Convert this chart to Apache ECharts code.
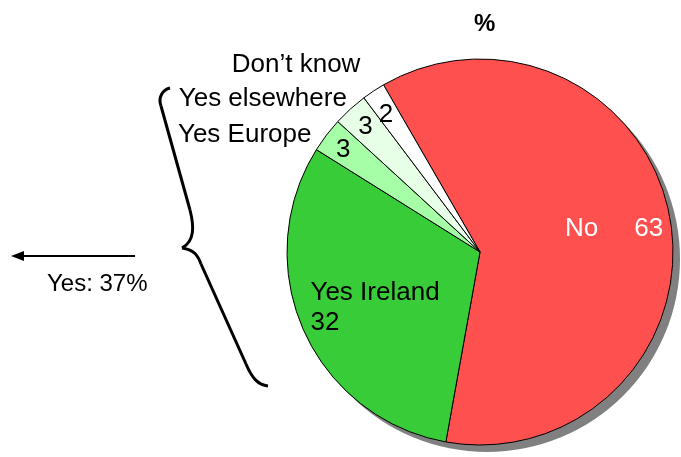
<!DOCTYPE html>
<html>
<head>
<meta charset="utf-8">
<script src="https://cdn.jsdelivr.net/npm/echarts@6/dist/echarts.min.js"></script>
<style>
  html, body { margin: 0; padding: 0; background: #fff; }
</style>
</head>
<body>
<div id="pie" style="width: 681px;height:457px;"></div>
<script>
// answers (%), clockwise from the "No" slice
const categories = ['No', 'Yes Ireland', 'Yes Europe', 'Yes elsewhere', 'Don\u2019t know'];
const values = [63, 32, 3, 3, 2];
const sliceColors = ['#ff5050', '#38cc38', '#a6ffa6', '#e6ffe6', '#ffffff'];
const titleText = '%';
const yesText = 'Yes: 37%';

const FONT = '"Liberation Sans", Arial, sans-serif';
const FS = 26;
const CENTER = [480, 252];
const R = 193;
const START = 120;

// labels: the two big slices get their name inside, the small ones outside
const insideOpts = {
  'No': { formatter: '{b}     {c}', color: '#fff', offset: [36, -6] },
  'Yes Ireland': {
    formatter: '{n|{b}}\n{v|{c}}', color: '#000', offset: [-14, 16],
    rich: { n: { fontSize: FS, lineHeight: 30 }, v: { fontSize: FS, lineHeight: 30, width: 126, align: 'left' } }
  }
};
// outside names: label line length and gap to text per slice
const lineLen = { 'Yes Europe': 0, 'Yes elsewhere': 14, 'Don\u2019t know': 31 };
const textGap = { 'Yes Europe': 15, 'Yes elsewhere': -6, 'Don\u2019t know': -4 };
// small nudges for the rim numbers
const rimOffset = { 'Yes Europe': [0, 2], 'Yes elsewhere': [1, 2], 'Don\u2019t know': [1, 6] };

const mainData = categories.map(function (name, i) {
  const item = { name: name, value: values[i], itemStyle: { color: sliceColors[i] } };
  if (insideOpts[name]) {
    item.label = Object.assign({ position: 'inside', lineHeight: 30 }, insideOpts[name]);
  } else {
    item.label = { distanceToLabelLine: textGap[name] };
    item.labelLine = { show: false, length: lineLen[name], length2: 0 };
  }
  return item;
});

// ring used only to place the small slices' numbers near the rim
const ringData = categories.map(function (name, i) {
  return { name: name, value: values[i], label: { show: !insideOpts[name], offset: rimOffset[name] || [0, 0] } };
});

const total = values.reduce(function (a, b) { return a + b; }, 0);

// the curly brace grouping the "Yes" answers
const braceSegs = [
  { type: 'bezierCurve', shape: { x1: 170, y1: 88, cpx1: 162, cpy1: 90, cpx2: 158, cpy2: 98, x2: 161, y2: 106 } },
  { type: 'line', shape: { x1: 161, y1: 106, x2: 190, y2: 210 } },
  { type: 'bezierCurve', shape: { x1: 190, y1: 210, cpx1: 194, cpy1: 226, cpx2: 195, cpy2: 241, x2: 182, y2: 248 } },
  { type: 'bezierCurve', shape: { x1: 182, y1: 248, cpx1: 195, cpy1: 250, cpx2: 198, cpy2: 256, x2: 201, y2: 264 } },
  { type: 'line', shape: { x1: 201, y1: 264, x2: 246, y2: 364 } },
  { type: 'bezierCurve', shape: { x1: 246, y1: 364, cpx1: 252, cpy1: 378, cpx2: 258, cpy2: 385, x2: 268, y2: 386 } }
].map(function (s) {
  s.style = { fill: null, stroke: '#000', lineWidth: 3 };
  return s;
});

const chart = echarts.init(document.getElementById('pie'));
chart.setOption({
  animation: false,
  textStyle: { fontFamily: FONT },
  title: {
    text: titleText,
    left: 469, top: 7,
    textStyle: { fontFamily: FONT, fontSize: 24, fontWeight: 'bold', color: '#000' }
  },
  series: [
    {
      // drop shadow
      type: 'pie', silent: true,
      center: [CENTER[0] + 7, CENTER[1] + 7], radius: R,
      label: { show: false }, labelLine: { show: false },
      itemStyle: { color: '#808080' },
      data: [{ name: 'shadow', value: total }]
    },
    {
      type: 'pie', silent: true,
      center: CENTER, radius: R, startAngle: START, clockwise: true,
      avoidLabelOverlap: true,
      itemStyle: { borderColor: '#000', borderWidth: 1 },
      label: { show: true, position: 'outside', formatter: '{b}', fontSize: FS, color: '#000', fontFamily: FONT },
      labelLine: { show: false },
      data: mainData
    },
    {
      type: 'pie', silent: true,
      center: CENTER, radius: [145, R], startAngle: START, clockwise: true,
      itemStyle: { color: 'rgba(0,0,0,0)', borderWidth: 0 },
      label: { position: 'inside', formatter: '{c}', fontSize: FS, color: '#000', fontFamily: FONT },
      labelLine: { show: false },
      data: ringData
    }
  ],
  graphic: braceSegs.concat([
    {
      type: 'line',
      shape: { x1: 20, y1: 256, x2: 135, y2: 256 },
      style: { stroke: '#000', lineWidth: 2 }
    },
    {
      type: 'polygon',
      shape: { points: [[11, 256], [24, 251], [24, 261]] },
      style: { fill: '#000' }
    },
    {
      type: 'text',
      left: 47, top: 272,
      style: { text: yesText, fontSize: 24, fontFamily: FONT, fill: '#000' }
    }
  ])
});
</script>
</body>
</html>
